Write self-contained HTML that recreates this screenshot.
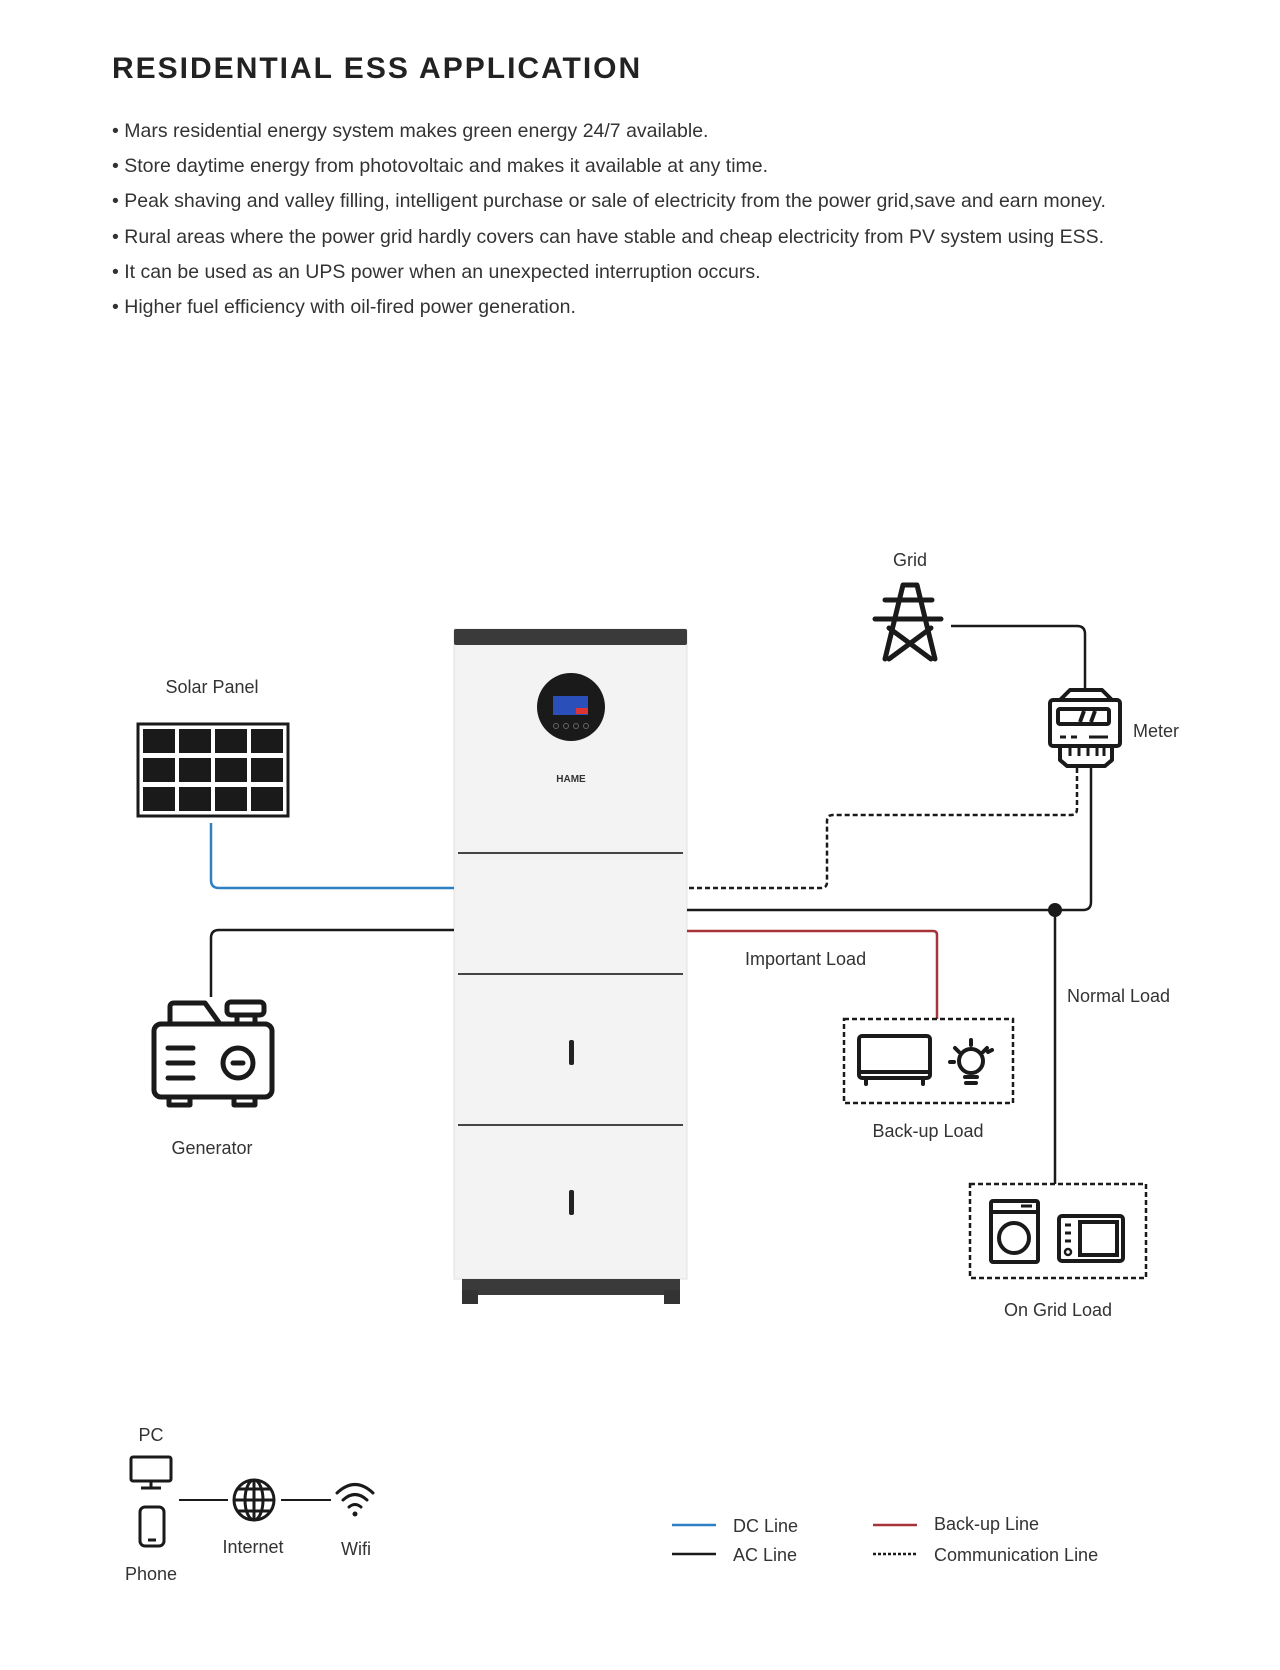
<!DOCTYPE html>
<html><head><meta charset="utf-8"><style>
body{margin:0;background:#fff;}
svg{display:block;font-family:"Liberation Sans",sans-serif;}
</style></head><body>
<svg width="1280" height="1670" viewBox="0 0 1280 1670" xmlns="http://www.w3.org/2000/svg">
<rect width="1280" height="1670" fill="#fff"/>
<text x="112" y="78" font-size="30" font-weight="bold" fill="#222" letter-spacing="2">RESIDENTIAL ESS APPLICATION</text>
<g font-size="19.5" fill="#333">
<text x="112" y="137">•  Mars residential energy system makes green energy 24/7 available.</text>
<text x="112" y="172">•  Store daytime energy from photovoltaic and makes it available at any time.</text>
<text x="112" y="207">•  Peak shaving and valley filling, intelligent purchase or sale of electricity from the power grid,save and earn money.</text>
<text x="112" y="243">•  Rural areas where the power grid hardly covers can have stable and cheap electricity from PV system using ESS.</text>
<text x="112" y="278">•  It can be used as an UPS power when an unexpected interruption occurs.</text>
<text x="112" y="313">•  Higher fuel efficiency with oil-fired power generation.</text>
</g>

<!-- battery -->
<rect x="454" y="629" width="233" height="650" fill="#f3f3f3" stroke="#e2e2e2"/>
<rect x="454" y="629" width="233" height="16" fill="#3a3a3a" rx="2"/>
<rect x="462" y="1279" width="218" height="16" fill="#3a3a3a"/>
<rect x="462" y="1290" width="16" height="14" fill="#333"/>
<rect x="664" y="1290" width="16" height="14" fill="#333"/>
<line x1="458" y1="853" x2="683" y2="853" stroke="#444" stroke-width="2"/>
<line x1="458" y1="974" x2="683" y2="974" stroke="#444" stroke-width="2"/>
<line x1="458" y1="1125" x2="683" y2="1125" stroke="#444" stroke-width="2"/>
<circle cx="571" cy="707" r="34" fill="#1a1a1a"/>
<rect x="553" y="696" width="35" height="19" fill="#2b4fb8"/>
<rect x="576" y="708" width="12" height="6" fill="#d33"/>
<g fill="none" stroke="#666" stroke-width="1"><circle cx="556" cy="726" r="2.5"/><circle cx="566" cy="726" r="2.5"/><circle cx="576" cy="726" r="2.5"/><circle cx="586" cy="726" r="2.5"/></g>
<text x="571" y="782" font-size="10" font-weight="bold" fill="#333" text-anchor="middle">HAME</text>
<rect x="569" y="1040" width="5" height="25" rx="2" fill="#222"/>
<rect x="569" y="1190" width="5" height="25" rx="2" fill="#222"/>

<!-- solar -->
<text x="212" y="693" font-size="18" fill="#333" text-anchor="middle">Solar Panel</text>
<rect x="138" y="724" width="150" height="92" fill="#fff" stroke="#1a1a1a" stroke-width="3"/>
<g fill="#1a1a1a">
<rect x="143" y="729" width="32" height="24"/><rect x="179" y="729" width="32" height="24"/><rect x="215" y="729" width="32" height="24"/><rect x="251" y="729" width="32" height="24"/>
<rect x="143" y="758" width="32" height="24"/><rect x="179" y="758" width="32" height="24"/><rect x="215" y="758" width="32" height="24"/><rect x="251" y="758" width="32" height="24"/>
<rect x="143" y="787" width="32" height="24"/><rect x="179" y="787" width="32" height="24"/><rect x="215" y="787" width="32" height="24"/><rect x="251" y="787" width="32" height="24"/>
</g>
<path d="M211 823 V880 Q211 888 219 888 H454" fill="none" stroke="#2f80c2" stroke-width="2.5"/>

<!-- generator -->
<path d="M211 997 V938 Q211 930 219 930 H454" fill="none" stroke="#1a1a1a" stroke-width="2.5"/>
<g fill="none" stroke="#1a1a1a" stroke-width="5" stroke-linejoin="round" stroke-linecap="round">
<rect x="154" y="1024" width="118" height="73" rx="7"/>
<path d="M170 1024 V1007 Q170 1003 174 1003 H205 L220 1024"/>
<rect x="227" y="1002" width="37" height="13" rx="4"/>
<line x1="237" y1="1015" x2="237" y2="1024"/><line x1="255" y1="1015" x2="255" y2="1024"/>
<line x1="168" y1="1048" x2="193" y2="1048"/><line x1="168" y1="1063" x2="193" y2="1063"/><line x1="168" y1="1078" x2="193" y2="1078"/>
<circle cx="238" cy="1063" r="15"/><line x1="233" y1="1063" x2="243" y2="1063"/>
<path d="M169 1097 V1105 H190 V1097 M234 1097 V1105 H255 V1097"/>
</g>
<text x="212" y="1154" font-size="18" fill="#333" text-anchor="middle">Generator</text>

<!-- grid -->
<text x="910" y="566" font-size="18" fill="#333" text-anchor="middle">Grid</text>
<g fill="none" stroke="#1a1a1a" stroke-width="5" stroke-linecap="round" stroke-linejoin="round">
<path d="M885 659 L903 585 H917 L935 659 M889 628 L931 659 M931 628 L889 659"/>
<line x1="885" y1="600" x2="932" y2="600"/><line x1="875" y1="619" x2="941" y2="619"/>
</g>
<path d="M951 626 H1077 Q1085 626 1085 634 V688" fill="none" stroke="#1a1a1a" stroke-width="2.5"/>
<!-- meter -->
<g fill="none" stroke="#1a1a1a" stroke-width="4" stroke-linejoin="round">
<path d="M1060 700 L1070 690 H1102 L1112 700"/>
<rect x="1050" y="700" width="70" height="46" rx="3"/>
<rect x="1058" y="709" width="51" height="15" rx="2"/>
<line x1="1080" y1="722" x2="1084" y2="711"/><line x1="1091" y1="722" x2="1095" y2="711"/>
<path d="M1060 737 H1066 M1071 737 H1077 M1089 737 H1108" stroke-width="3"/>
<path d="M1060 746 V760 L1067 766 H1105 L1112 760 V746"/>
<path d="M1070 748 V756 M1079 748 V756 M1088 748 V756 M1097 748 V756 M1104 748 V756" stroke-width="3"/>
</g>
<text x="1133" y="737" font-size="18" fill="#333">Meter</text>
<path d="M1077 768 V809 Q1077 815 1071 815 H833 Q827 815 827 821 V882 Q827 888 821 888 H687" fill="none" stroke="#1a1a1a" stroke-width="2.5" stroke-dasharray="5,3"/>
<path d="M687 910 H1083 Q1091 910 1091 902 V768" fill="none" stroke="#1a1a1a" stroke-width="2.5"/>
<circle cx="1055" cy="910" r="7" fill="#1a1a1a"/>
<line x1="1055" y1="910" x2="1055" y2="1184" stroke="#1a1a1a" stroke-width="2.5"/>
<text x="1067" y="1002" font-size="18" fill="#333">Normal Load</text>
<path d="M687 931 H933 Q937 931 937 935 V1019" fill="none" stroke="#a8323a" stroke-width="2.5"/>
<text x="745" y="965" font-size="18" fill="#333">Important Load</text>

<!-- backup load -->
<rect x="844" y="1019" width="169" height="84" fill="none" stroke="#1a1a1a" stroke-width="2.5" stroke-dasharray="5,3"/>
<g fill="none" stroke="#1a1a1a" stroke-width="4" stroke-linecap="round">
<rect x="859" y="1036" width="71" height="42" rx="3"/>
<line x1="859" y1="1072" x2="930" y2="1072"/>
<line x1="866" y1="1080" x2="866" y2="1084"/><line x1="923" y1="1080" x2="923" y2="1084"/>
<circle cx="971" cy="1061" r="12"/>
<path d="M965 1077 H977 M966 1083 H976"/>
<path d="M971 1040 V1045 M955 1048 L959 1052 M987 1048 L983 1052 M950 1062 H954 M988 1052 L992 1050"/>
</g>
<text x="928" y="1137" font-size="18" fill="#333" text-anchor="middle">Back-up Load</text>

<!-- on grid load -->
<rect x="970" y="1184" width="176" height="94" fill="none" stroke="#1a1a1a" stroke-width="2.5" stroke-dasharray="5,3"/>
<g fill="none" stroke="#1a1a1a" stroke-width="4">
<rect x="991" y="1201" width="47" height="61" rx="2"/>
<line x1="991" y1="1212" x2="1038" y2="1212"/>
<line x1="1021" y1="1206" x2="1032" y2="1206" stroke-width="3"/>
<circle cx="1014" cy="1238" r="15"/>
<rect x="1059" y="1216" width="64" height="45" rx="3"/>
<rect x="1080" y="1222" width="37" height="33"/>
<path d="M1065 1225 H1071 M1065 1233 H1071 M1065 1241 H1071" stroke-width="3"/>
<circle cx="1068" cy="1252" r="3" stroke-width="2.5"/>
</g>
<text x="1058" y="1316" font-size="18" fill="#333" text-anchor="middle">On Grid Load</text>

<!-- network -->
<text x="151" y="1441" font-size="18" fill="#333" text-anchor="middle">PC</text>
<g fill="none" stroke="#1a1a1a" stroke-width="3">
<rect x="131" y="1457" width="40" height="24" rx="2"/>
<path d="M151 1481 V1487 M141 1488 H161"/>
<rect x="140" y="1507" width="24" height="39" rx="5"/>
<line x1="148" y1="1540" x2="156" y2="1540"/>
<line x1="179" y1="1500" x2="228" y2="1500" stroke-width="2"/>
<circle cx="254" cy="1500" r="20"/>
<ellipse cx="254" cy="1500" rx="9" ry="20"/>
<path d="M234 1500 H274 M238 1489 H270 M238 1511 H270 M254 1480 V1520"/>
<line x1="281" y1="1500" x2="331" y2="1500" stroke-width="2"/>
<path d="M337 1493 Q355 1476 373 1493 M343 1500 Q355 1489 367 1500 M349 1507 Q355 1502 361 1507" stroke-linecap="round"/>
</g>
<circle cx="355" cy="1514" r="2.5" fill="#1a1a1a"/>
<text x="151" y="1580" font-size="18" fill="#333" text-anchor="middle">Phone</text>
<text x="253" y="1553" font-size="18" fill="#333" text-anchor="middle">Internet</text>
<text x="356" y="1555" font-size="18" fill="#333" text-anchor="middle">Wifi</text>

<!-- legend -->
<line x1="672" y1="1525" x2="716" y2="1525" stroke="#2f80c2" stroke-width="2.5"/>
<text x="733" y="1532" font-size="18" fill="#333">DC Line</text>
<line x1="672" y1="1554" x2="716" y2="1554" stroke="#1a1a1a" stroke-width="2.5"/>
<text x="733" y="1561" font-size="18" fill="#333">AC Line</text>
<line x1="873" y1="1525" x2="917" y2="1525" stroke="#a8323a" stroke-width="2.5"/>
<text x="934" y="1530" font-size="18" fill="#333">Back-up Line</text>
<line x1="873" y1="1554" x2="917" y2="1554" stroke="#1a1a1a" stroke-width="2.5" stroke-dasharray="3,2"/>
<text x="934" y="1561" font-size="18" fill="#333">Communication Line</text>
</svg>
</body></html>
